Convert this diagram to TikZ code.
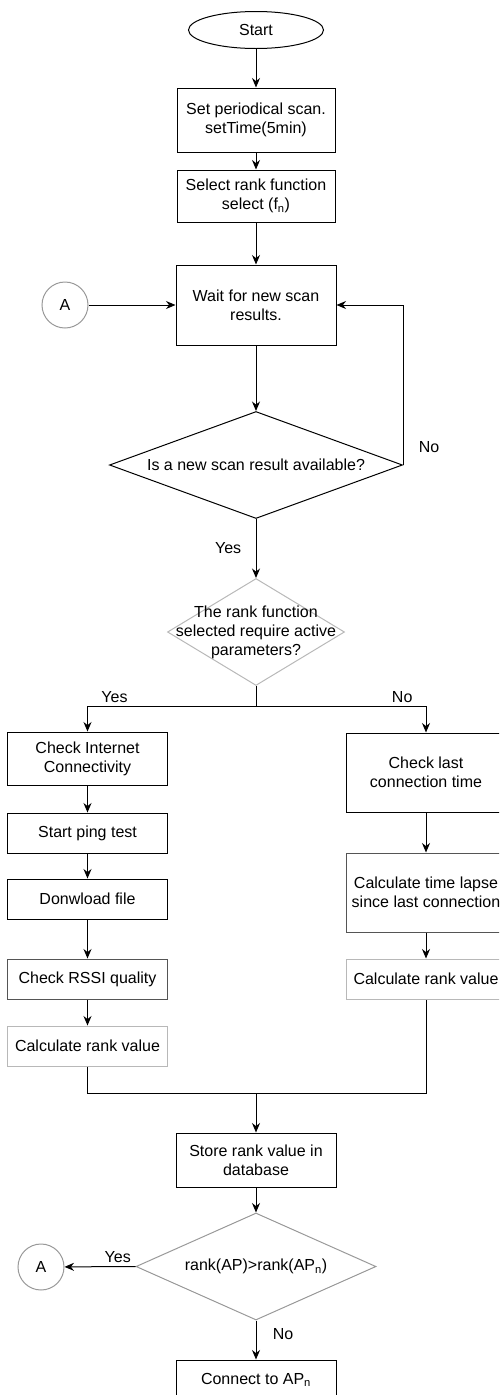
\documentclass[tikz,border=0pt]{standalone}
\usepackage{fontspec}
\setmainfont{Liberation Sans}
\usepackage{tikz}
\usetikzlibrary{arrows.meta, positioning, shapes.geometric}

\definecolor{greyline}{HTML}{999999}
\definecolor{paleline}{HTML}{B8B8B8}
\definecolor{darkline}{HTML}{555555}
\newcommand{\chartfont}{\fontsize{16}{19}\selectfont}

\tikzset{
	box/.style={draw,line width=1pt,minimum width=158pt,align=center,inner sep=2pt},
	terminal/.style={ellipse,draw,line width=1pt,inner sep=0pt},
	decision/.style={diamond,draw,line width=1pt,inner sep=0pt,aspect=2},
	connector/.style={circle,draw=greyline,line width=1pt,minimum size=46pt,inner sep=0pt}
}

\begin{document}
\begin{tikzpicture}[x=1pt,y=-1pt,line width=1pt,font=\chartfont,>={Stealth[length=9.5pt,width=8pt]}]
	\path[use as bounding box,clip] (0,0) rectangle (499,1395);

	% Set-up
	\node (start) at (256,30) [terminal,minimum width=135pt,minimum height=37pt] {Start};
	\node (setScan) at (256,120) [box,minimum height=64pt] {Set periodical scan.\\setTime(5min)};
	\node (selRank) at (256,196) [box,minimum height=52pt] {Select rank function\\select (f\textsubscript{n})};
	\node (waitScan) at (256,305) [box,minimum width=160pt,minimum height=80pt] {Wait for new scan\\results.};
	\node (backA) at (65,305) [connector] {A};

	% Decisions
	\node (newScan) at (256,465) [decision,minimum width=293pt,minimum height=107pt,
		label={center:Is a new scan result available?}] {};
	\node (needActive) at (256,632) [decision,draw=paleline,minimum width=177pt,minimum height=107pt,
		label={[align=center]center:The rank function\\selected require active\\parameters?}] {};

	% Active branch
	\node (chkNet) at (87.5,758.5) [box,minimum width=160pt,minimum height=53pt] {Check Internet\\Connectivity};
	\node (ping) at (87.5,833) [box,minimum width=160pt,minimum height=40pt] {Start ping test};
	\node (download) at (87.5,899) [box,minimum width=160pt,minimum height=40pt] {Donwload file};
	\node (rssi) at (87.5,979) [box,draw=darkline,minimum width=160pt,minimum height=40pt] {Check RSSI quality};
	\node (rankL) at (87.5,1046) [box,draw=paleline,minimum width=160pt,minimum height=40pt] {Calculate rank value};

	% Passive branch
	\node (lastConn) at (426,772.5) [box,minimum width=160pt,minimum height=79pt] {Check last\\connection time};
	\node (lapse) at (426,892.5) [box,draw=darkline,minimum width=160pt,minimum height=79pt] {Calculate time lapse\\since last connection};
	\node (rankR) at (426,979) [box,draw=paleline,minimum width=160pt,minimum height=40pt] {Calculate rank value};

	% Store and compare
	\coordinate (merge) at (256,1093);
	\node (store) at (256,1160) [box,minimum width=160pt,minimum height=54pt] {Store rank value in\\database};
	\node (better) at (256,1266.5) [decision,draw=greyline,minimum width=240pt,minimum height=107pt,
		label={center:rank(AP)>rank(AP\textsubscript{n})}] {};
	\node (toA) at (41,1267) [connector] {A};
	\node (connect) at (256,1380) [box,minimum width=160pt,minimum height=40pt] {Connect to AP\textsubscript{n}};

	% Arrows
	\draw[->] (start) -- (setScan);
	\draw[->] (setScan) -- (selRank);
	\draw[->] (selRank) -- (waitScan);
	\draw[->] (backA) -- (waitScan);
	\draw[->] (waitScan) -- (newScan);
	\draw[->] (newScan.east) -- (newScan.east |- waitScan.east) node[pos=0.11,right=12pt] {No} -- (waitScan.east);
	\draw[->] (newScan) -- (needActive) node[midway,left=11pt] {Yes};
	\draw[->] (needActive.south) -- ++(0,20) -| (chkNet.north) node[pos=0.42,above] {Yes};
	\draw[->] (needActive.south) -- ++(0,20) -| (lastConn.north) node[pos=0.43,above] {No};

	\draw[->] (chkNet) -- (ping);
	\draw[->] (ping) -- (download);
	\draw[->] (download) -- (rssi);
	\draw[->] (rssi) -- (rankL);
	\draw[->] (lastConn) -- (lapse);
	\draw[->] (lapse) -- (rankR);

	\draw (rankL.south) |- (merge) -| (rankR.south);
	\draw[->] (merge) -- (store);
	\draw[->] (store) -- (better);
	\draw[->] (better.west) -- (toA) node[pos=0.25,above] {Yes};
	\draw[->] (better) -- (connect) node[pos=0.35,right=13pt] {No};
\end{tikzpicture}
\end{document}
